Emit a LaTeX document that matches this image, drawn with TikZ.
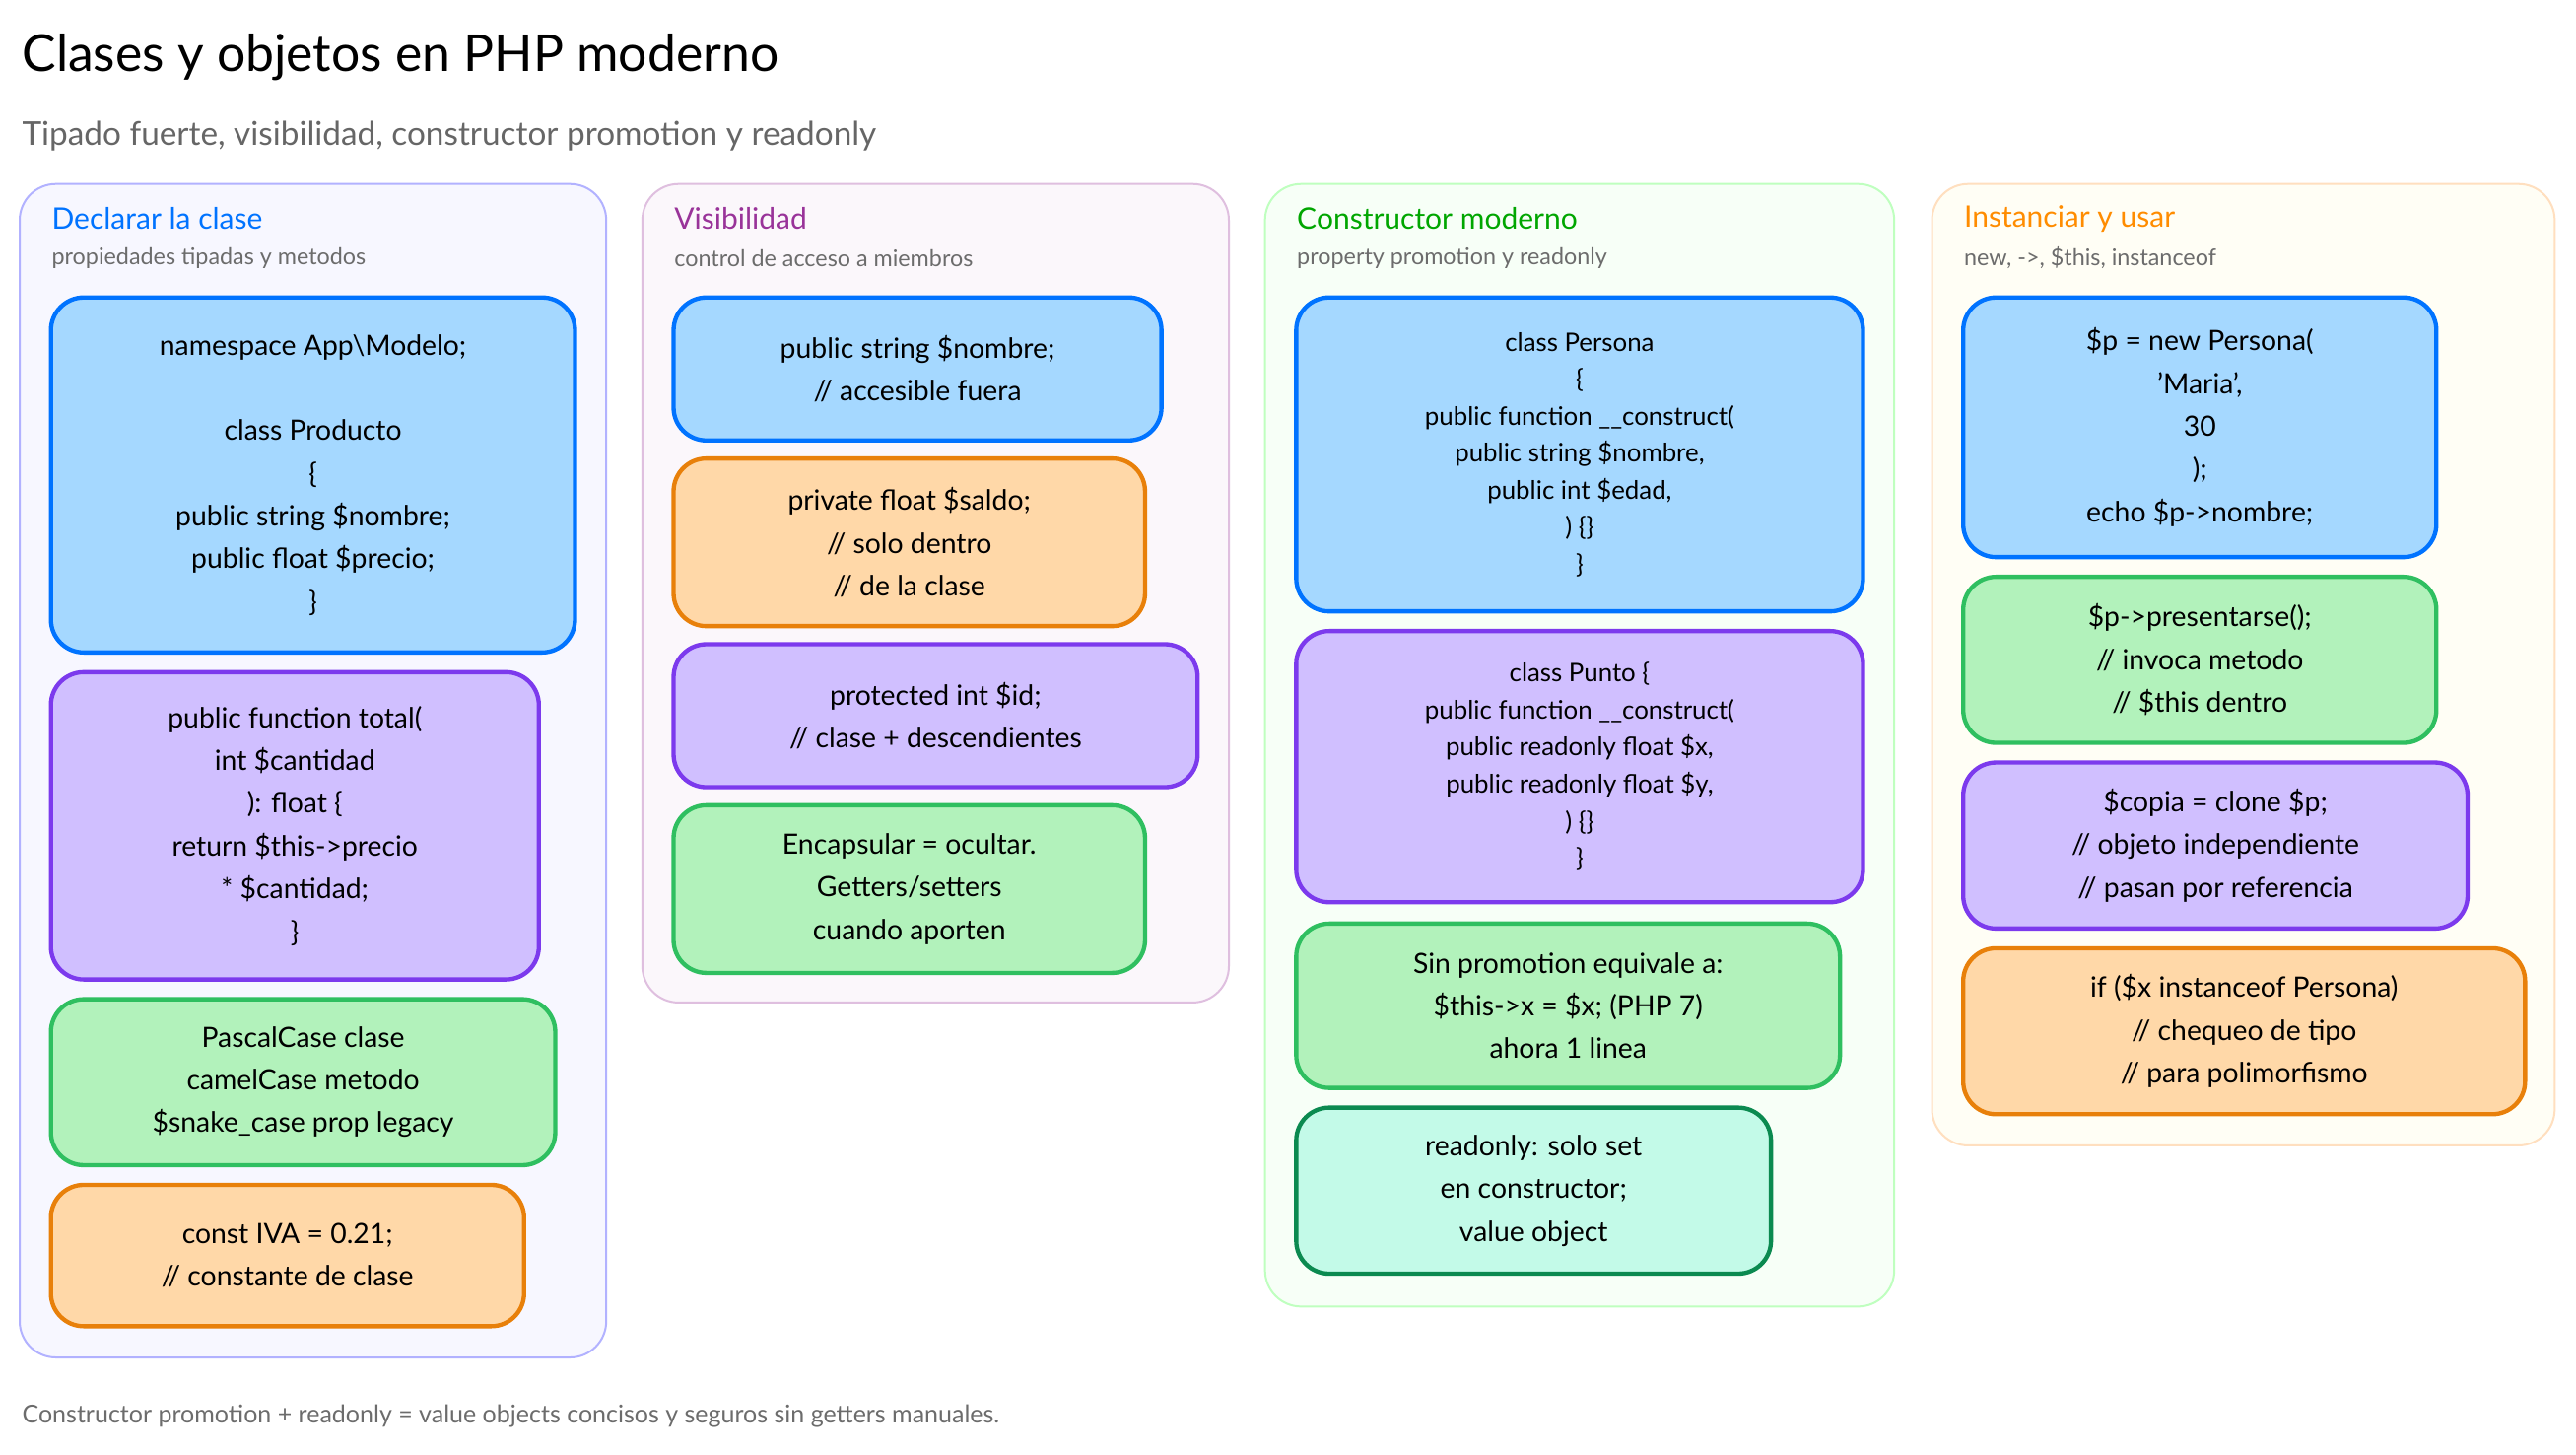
\documentclass[tikz,border=0pt]{standalone}
\usepackage{fontspec}
\setmainfont{Lato}
\begin{document}
\begin{tikzpicture}[x=1pt,y=-1pt,
 col/.style 2 args={draw=#1,fill=#2,line width=1.2pt,rounded corners=22pt,inner sep=0pt},
 box/.style 2 args={draw=#1,fill=#2,line width=2.6pt,rounded corners=20pt,align=center,inner sep=0pt,font=\fontsize{17}{26}\selectfont},
 sm/.style={font=\fontsize{15.5}{22.5}\selectfont},
 hd/.style={anchor=west,font=\fontsize{18}{20}\selectfont},
 sb/.style={anchor=west,font=\fontsize{14}{16}\selectfont,text=gray!85!black}]
\useasboundingbox (0,0) rectangle (1568,885);
\fill[white] (0,0) rectangle (1568,885);
\node[anchor=west,font=\fontsize{31}{34}\selectfont] (title) at (10,35) {Clases y objetos en PHP moderno};
\node[anchor=west,font=\fontsize{20}{22}\selectfont,text=gray!80!black] (subtitle) at (10,83) {Tipado fuerte, visibilidad, constructor promotion y readonly};
% columns
\node[col={blue!30}{blue!3},minimum width=357pt,minimum height=714pt] (c1) at (190.5,469) {};
\node[col={violet!25}{violet!3},minimum width=357pt,minimum height=498pt] (c2) at (569.5,361) {};
\node[col={green!25}{green!3},minimum width=383pt,minimum height=683pt] (c3) at (961.5,453.5) {};
\node[col={orange!25}{yellow!4},minimum width=379pt,minimum height=585pt] (c4) at (1365.5,404.5) {};
\node[hd,text=blue!55!cyan] (h1) at (28,133) {Declarar la clase};
\node[sb] (s1) at (28,157) {propiedades tipadas y metodos};
\node[hd,text=violet!80] (h2) at (407,133) {Visibilidad};
\node[sb] (s2) at (407,157) {control de acceso a miembros};
\node[hd,text=green!65!black] (h3) at (786,133) {Constructor moderno};
\node[sb] (s3) at (786,157) {property promotion y readonly};
\node[hd,text=orange!90!yellow] (h4) at (1192,133) {Instanciar y usar};
\node[sb] (s4) at (1192,157) {new, ->, \$this, instanceof};
\colorlet{bB}{blue!55!cyan}\definecolor{bF}{HTML}{A5D8FF}
\definecolor{pB}{HTML}{7C3AED}\definecolor{pF}{HTML}{D0BFFF}
\definecolor{gB}{HTML}{2FBF60}\definecolor{gF}{HTML}{B2F2BB}
\definecolor{oB}{HTML}{E8800A}\definecolor{oF}{HTML}{FFD8A8}
\definecolor{tB}{HTML}{0B8A50}\definecolor{tF}{HTML}{C3FAE8}
% col1
\node[box={bB}{bF},minimum width=319pt,minimum height=216pt] (a1) at (190.5,289) {namespace App\textbackslash Modelo;\\[26pt]class Producto\\\{\\public string \$nombre;\\public float \$precio;\\\}};
\node[box={pB}{pF},minimum width=297pt,minimum height=187pt] (a2) at (179.5,502.5) {public function total(\\int \$cantidad\\): float \{\\return \$this->precio\\* \$cantidad;\\\}};
\node[box={gB}{gF},minimum width=307pt,minimum height=101pt] (a3) at (184.5,658.5) {PascalCase clase\\camelCase metodo\\\$snake\_case prop legacy};
\node[box={oB}{oF},minimum width=288pt,minimum height=86pt] (a4) at (175,764) {const IVA = 0.21;\\// constante de clase};
% col2
\node[box={bB}{bF},minimum width=297pt,minimum height=87pt] (b1) at (558.5,224.5) {public string \$nombre;\\// accesible fuera};
\node[box={oB}{oF},minimum width=287pt,minimum height=102pt] (b2) at (553.5,330) {private float \$saldo;\\// solo dentro\\// de la clase};
\node[box={pB}{pF},minimum width=319pt,minimum height=87pt] (b3) at (569.5,435.5) {protected int \$id;\\// clase + descendientes};
\node[box={gB}{gF},minimum width=287pt,minimum height=102pt] (b4) at (553.5,541) {Encapsular = ocultar.\\Getters/setters\\cuando aporten};
% col3
\node[box={bB}{bF},sm,minimum width=345pt,minimum height=191pt] (d1) at (961.5,276.5) {class Persona\\\{\\public function \_\_construct(\\public string \$nombre,\\public int \$edad,\\) \{\}\\\}};
\node[box={pB}{pF},sm,minimum width=345pt,minimum height=165pt] (d2) at (961.5,466.5) {class Punto \{\\public function \_\_construct(\\public readonly float \$x,\\public readonly float \$y,\\) \{\}\\\}};
\node[box={gB}{gF},minimum width=331pt,minimum height=100pt] (d3) at (954.5,612) {Sin promotion equivale a:\\\$this->x = \$x; (PHP 7)\\ahora 1 linea};
\node[box={tB}{tF},minimum width=289pt,minimum height=101pt] (d4) at (933.5,724.5) {readonly: solo set\\en constructor;\\value object};
% col4
\node[box={bB}{bF},minimum width=288pt,minimum height=158pt] (e1) at (1339,260) {\$p = new Persona(\\'Maria',\\30\\);\\echo \$p->nombre;};
\node[box={gB}{gF},minimum width=288pt,minimum height=101pt] (e2) at (1339,401.5) {\$p->presentarse();\\// invoca metodo\\// \$this dentro};
\node[box={pB}{pF},minimum width=307pt,minimum height=101pt] (e3) at (1348.5,514.5) {\$copia = clone \$p;\\// objeto independiente\\// pasan por referencia};
\node[box={oB}{oF},minimum width=342pt,minimum height=101pt] (e4) at (1366,627.5) {if (\$x instanceof Persona)\\// chequeo de tipo\\// para polimorfismo};
\node[anchor=west,font=\fontsize{15}{17}\selectfont,text=gray!85!black] (foot) at (10,862) {Constructor promotion + readonly = value objects concisos y seguros sin getters manuales.};
\end{tikzpicture}
\end{document}
